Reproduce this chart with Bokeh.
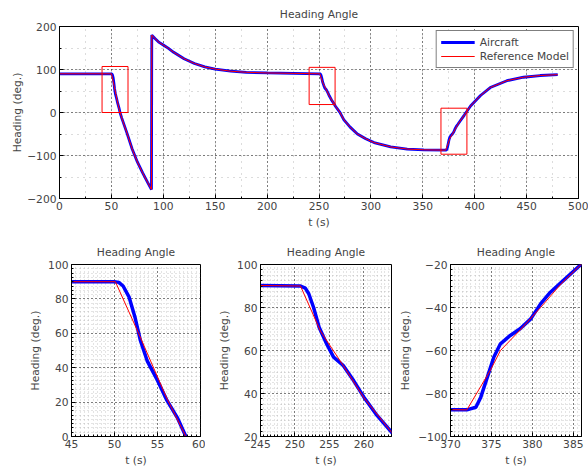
from bokeh.plotting import figure
from bokeh.layouts import column, row
from bokeh.models import Range1d, SingleIntervalTicker, CustomJSTickFormatter
from bokeh.embed import file_html
from bokeh.resources import INLINE

# ---------------- data ----------------
aircraft_t = [0, 50, 50.5, 51, 51.7, 52.4, 53, 53.8, 55, 56.1, 57.3, 58.3, 60, 65, 70, 75, 80, 85,
              88.6, 88.9, 92, 96, 100, 105, 110, 120, 130, 140, 150, 165, 180, 200, 225,
              250.8, 251.5, 252, 252.7, 253.5, 254.6, 255.6, 257, 258.5, 260, 261.9, 264,
              266, 270, 274, 280, 287, 295, 303, 319, 335, 351,
              372, 373.1, 373.7, 374.5, 375.3, 376.1, 377.3, 378.5, 379.8, 381, 382.2, 383.8, 385.8,
              390, 396, 405.6, 415, 431, 447, 463, 480]
aircraft_h = [90, 90, 89.6, 87.5, 81, 69, 56, 44, 32.6, 21, 11, 0, -13, -48, -85, -115, -140, -163,
              -179, 180, 172, 163, 157, 149, 140, 125, 114, 106, 101, 96, 93.5, 92, 91,
              90, 89, 86.4, 80, 70.8, 63, 56.9, 53, 46, 38.3, 29.8, 22,
              14, 1, -17, -34, -50, -61, -70, -80, -85, -86.8,
              -87.6, -86.4, -81.7, -72.4, -63, -56.9, -53, -49.9, -45.3, -38.3, -32.9, -27.4, -20.5,
              -6, 15, 39.5, 58, 74, 82, 86, 88]

ref_t = [0, 50.1, 52.8, 56.1, 58.3, 60, 65, 70, 75, 80, 85,
         88.6, 88.9, 92, 96, 100, 105, 110, 120, 130, 140, 150, 165, 180, 200, 225,
         250.8, 253.7, 257, 260, 264,
         266, 270, 274, 280, 287, 295, 303, 319, 335, 351,
         372, 374.9, 376.1, 378.5, 381, 383.5, 385.8,
         390, 396, 405.6, 415, 431, 447, 463, 480]
ref_h = [90, 90, 60, 22, 0, -13, -48, -85, -115, -140, -163,
         -179, 180, 172, 163, 157, 149, 140, 125, 114, 106, 101, 96, 93.5, 92, 91,
         90, 69, 53, 38, 22,
         14, 1, -17, -34, -50, -61, -70, -80, -85, -86.8,
         -87.6, -69, -60, -50.5, -40, -29, -20.5,
         -6, 15, 39.5, 58, 74, 82, 86, 88]

# zoom boxes drawn on the overview
box_left = [41, 240.5, 367.5]
box_right = [66, 265.5, 392.5]
box_bottom = [0, 18.5, -97]
box_top = [107, 105, 10]

# zoom windows (x range, y range)
zoom_x = [(45, 60), (245, 264), (370, 386)]
zoom_y = [(0, 100), (20, 100), (-100, -20)]

title_text = "Heading Angle"
x_label = "t (s)"
y_label = "Heading (deg.)"

FONT = "DejaVu Sans"
FS = "10.7px"

minus_fmt = "return (tick < 0 ? '\\u2212' + Math.abs(tick) : '' + tick);"


def style(p, xint, xminor, yint, yminor, dense, ylab_standoff, t_standoff):
    p.title.text_font = FONT
    p.title.text_font_size = FS
    p.title.text_font_style = "normal"
    p.title.align = "center"
    p.title.vertical_align = "top"
    p.title.standoff = t_standoff
    p.outline_line_color = "black"
    p.outline_line_width = 1
    p.xaxis.ticker = SingleIntervalTicker(interval=xint, num_minor_ticks=xminor)
    p.yaxis.ticker = SingleIntervalTicker(interval=yint, num_minor_ticks=yminor)
    for ax in (p.xaxis[0], p.yaxis[0]):
        ax.formatter = CustomJSTickFormatter(code=minus_fmt)
        ax.major_label_text_font = FONT
        ax.major_label_text_font_size = FS
        ax.axis_label_text_font = FONT
        ax.axis_label_text_font_size = FS
        ax.axis_label_text_font_style = "normal"
        ax.major_tick_in = 4
        ax.major_tick_out = 0
        ax.minor_tick_in = 2
        ax.minor_tick_out = 0
        ax.major_label_standoff = 3
        ax.axis_label_standoff = 3
        ax.axis_line_color = "black"
        ax.major_tick_line_color = "black"
        ax.minor_tick_line_color = "black"
    p.yaxis.axis_label_standoff = ylab_standoff
    p.xaxis.axis_label = x_label
    p.yaxis.axis_label = y_label
    for g in (p.xgrid[0], p.ygrid[0]):
        g.grid_line_color = "black"
        g.grid_line_dash = "1 3"
        g.grid_line_width = 1
        g.grid_line_alpha = 0.9
        g.minor_grid_line_color = "#888888"
        g.minor_grid_line_dash = "1 3" if dense else "1 5"
        g.minor_grid_line_alpha = 0.45 if dense else 0.6
        g.minor_grid_line_width = 1


# ---------------- top overview ----------------
top = figure(width=588, height=236, output_backend="svg", toolbar_location=None,
             title=title_text, x_range=Range1d(0, 500), y_range=Range1d(-200, 200),
             min_border_left=59, min_border_right=10, min_border_top=26, min_border_bottom=38)
style(top, 50, 2, 100, 2, False, 0, 8)
top.line(aircraft_t, aircraft_h, line_color="blue", line_width=2.8, legend_label="Aircraft")
top.line(ref_t, ref_h, line_color="red", line_width=1, legend_label="Reference Model")
top.quad(left=box_left, right=box_right, bottom=box_bottom, top=box_top,
         fill_alpha=0, line_color="red", line_width=1)
lg = top.legend[0]
lg.location = "top_right"
lg.label_text_font = FONT
lg.label_text_font_size = FS
lg.border_line_color = "black"
lg.border_line_width = 1
lg.background_fill_alpha = 1
lg.margin = 4
lg.padding = 4
lg.spacing = 0
lg.label_height = 14
lg.glyph_height = 14
lg.glyph_width = 34
lg.label_standoff = 5

# ---------------- zoomed views ----------------
widths = [205, 191, 192]
lefts = [71, 55, 54]
rights = [5, 5, 7]
subs = []
for i in range(3):
    q = figure(width=widths[i], height=237, output_backend="svg", toolbar_location=None,
               title=title_text, x_range=Range1d(*zoom_x[i]), y_range=Range1d(*zoom_y[i]),
               min_border_left=lefts[i], min_border_right=rights[i],
               min_border_top=28, min_border_bottom=37)
    style(q, 5, 10, 20, 8, True, 3, 8)
    q.line(aircraft_t, aircraft_h, line_color="blue", line_width=3.5)
    q.line(ref_t, ref_h, line_color="red", line_width=1)
    subs.append(q)

layout = column(top, row(*subs, spacing=0), spacing=0)
open("out.html", "w").write(file_html(layout, INLINE))
